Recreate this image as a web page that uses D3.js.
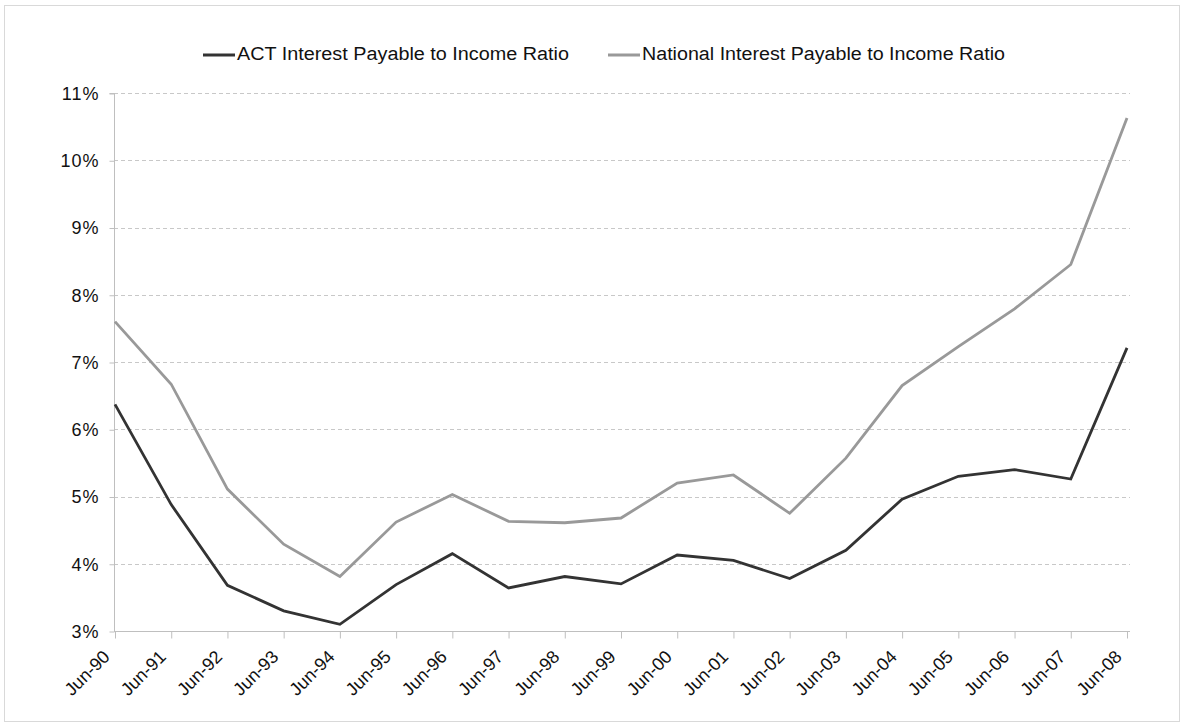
<!DOCTYPE html>
<html>
<head>
<meta charset="utf-8">
<script src="https://cdn.jsdelivr.net/npm/d3@7"></script>
<style>
  body { margin: 0; background: #fff; }
  svg { display: block; font-family: "Liberation Sans", Arial, sans-serif; }
</style>
</head>
<body>
<div id="chart"></div>
<script>
// data
const categories = ["Jun-90", "Jun-91", "Jun-92", "Jun-93", "Jun-94", "Jun-95", "Jun-96", "Jun-97", "Jun-98", "Jun-99",
                    "Jun-00", "Jun-01", "Jun-02", "Jun-03", "Jun-04", "Jun-05", "Jun-06", "Jun-07", "Jun-08"];
const actValues = [6.37, 4.88, 3.68, 3.30, 3.10, 3.69, 4.15, 3.64, 3.81, 3.70,
                   4.13, 4.05, 3.78, 4.20, 4.96, 5.30, 5.40, 5.26, 7.21];
const nationalValues = [7.60, 6.67, 5.11, 4.29, 3.81, 4.62, 5.03, 4.63, 4.61, 4.68,
                        5.20, 5.32, 4.75, 5.57, 6.65, 7.23, 7.79, 8.45, 10.63];
const yTicks = [3, 4, 5, 6, 7, 8, 9, 10, 11];
const seriesNames = ["ACT Interest Payable to Income Ratio", "National Interest Payable to Income Ratio"];

const width = 1184, height = 727;
const margin = { top: 93, right: 57, bottom: 96, left: 114 };

const svg = d3.select("#chart").append("svg")
    .attr("width", width)
    .attr("height", height);

// outer frame
svg.append("rect")
    .attr("x", 4.5).attr("y", 5.5)
    .attr("width", 1175).attr("height", 716)
    .attr("fill", "none")
    .attr("stroke", "#d9d9d9")
    .attr("stroke-width", 1);

const x = d3.scalePoint()
    .domain(categories)
    .range([margin.left + 1, width - margin.right]);

const y = d3.scaleLinear()
    .domain([3, 11])
    .range([height - margin.bottom, margin.top]);

// gridlines
svg.append("g")
    .selectAll("line")
    .data(yTicks.filter(d => d > 3))
    .enter().append("line")
    .attr("x1", margin.left).attr("x2", width - margin.right + 3)
    .attr("y1", d => Math.round(y(d)) + 0.5)
    .attr("y2", d => Math.round(y(d)) + 0.5)
    .attr("stroke", "#c8c8c8")
    .attr("stroke-dasharray", "4,3");

// y axis
const yAxis = svg.append("g")
    .attr("transform", `translate(${margin.left + 0.5},0.5)`)
    .call(d3.axisLeft(y).tickValues(yTicks).tickSize(5).tickPadding(10).tickFormat(d => d + "%"));
yAxis.select(".domain").attr("stroke", "#bfbfbf").attr("d", `M-5,${y(11)}H0V${y(3)}`);
yAxis.selectAll(".tick line").attr("stroke", "#bfbfbf");
yAxis.selectAll(".tick text")
    .attr("font-size", 18)
    .attr("font-family", "Liberation Sans, Arial, sans-serif")
    .attr("letter-spacing", 1)
    .attr("fill", "#111");

// x axis
const xAxis = svg.append("g")
    .attr("transform", `translate(0,${Math.round(y(3)) + 0.5})`)
    .call(d3.axisBottom(x).tickSize(7).tickSizeOuter(0));
xAxis.select(".domain").attr("stroke", "#bfbfbf").attr("d", `M${margin.left},0H${width - margin.right + 3}`);
xAxis.selectAll(".tick line").attr("stroke", "#bfbfbf");
xAxis.selectAll(".tick text")
    .attr("font-size", 18)
    .attr("font-family", "Liberation Sans, Arial, sans-serif")
    .attr("fill", "#111")
    .attr("text-anchor", "end")
    .attr("dy", null)
    .attr("transform", "translate(-8,23) rotate(-45)")
    .attr("y", 0).attr("x", 0)
    .attr("dominant-baseline", "middle");

// lines
const line = d3.line()
    .x((d, i) => x(categories[i]))
    .y(d => y(d));

svg.append("path")
    .datum(nationalValues)
    .attr("d", line)
    .attr("fill", "none")
    .attr("stroke", "#999999")
    .attr("stroke-width", 2.8);

svg.append("path")
    .datum(actValues)
    .attr("d", line)
    .attr("fill", "none")
    .attr("stroke", "#333333")
    .attr("stroke-width", 2.8);

// legend
const legendItems = [
    { name: seriesNames[0], color: "#333333", x: 203, w: 332 },
    { name: seriesNames[1], color: "#999999", x: 608, w: 363 }
];
const legend = svg.append("g");
legendItems.forEach(item => {
    legend.append("line")
        .attr("x1", item.x).attr("x2", item.x + 32)
        .attr("y1", 55).attr("y2", 55)
        .attr("stroke", item.color)
        .attr("stroke-width", 3);
    legend.append("text")
        .attr("x", item.x + 34)
        .attr("y", 55)
        .attr("dominant-baseline", "middle")
        .attr("font-size", 18)
        .attr("fill", "#111")
        .attr("textLength", item.w)
        .attr("lengthAdjust", "spacingAndGlyphs")
        .text(item.name);
});
</script>
</body>
</html>
